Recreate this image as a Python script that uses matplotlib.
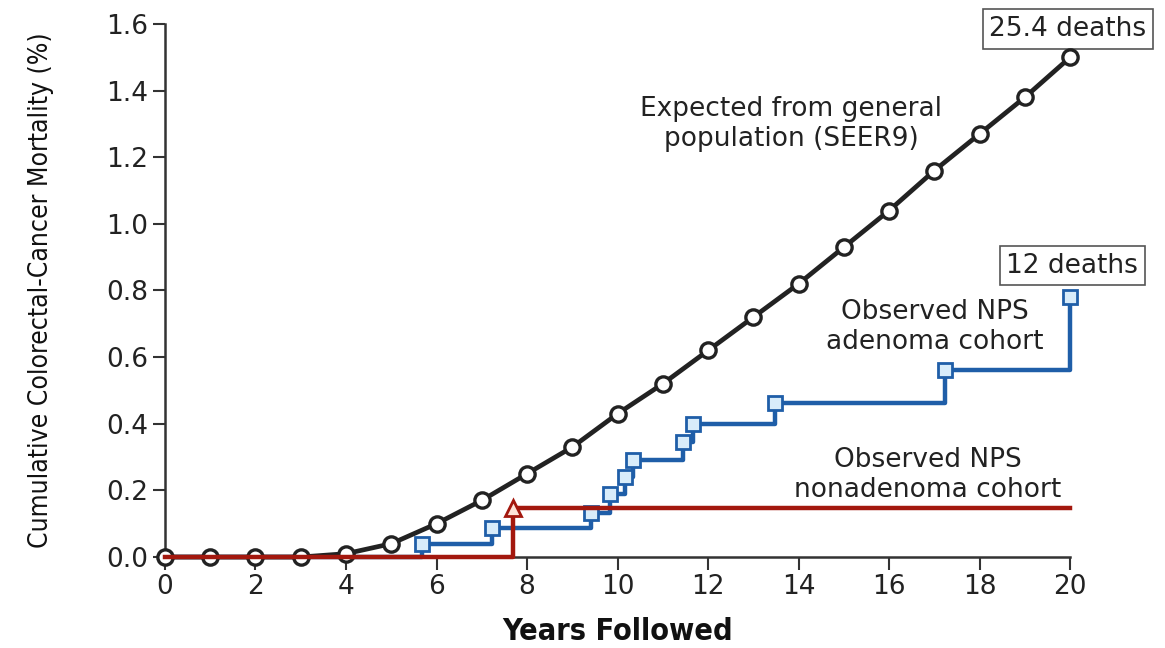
import matplotlib
matplotlib.use("Agg")
import matplotlib.pyplot as plt

# Expected cumulative mortality from general population (SEER9)
years_expected = [0, 1, 2, 3, 4, 5, 6, 7, 8, 9, 10, 11, 12, 13, 14, 15, 16, 17, 18, 19, 20]
mort_expected = [0.0, 0.0, 0.0, 0.0, 0.01, 0.04, 0.10, 0.17, 0.25, 0.33, 0.43, 0.52,
                 0.62, 0.72, 0.82, 0.93, 1.04, 1.16, 1.27, 1.38, 1.50]

# Observed NPS adenoma cohort (step events)
years_adenoma = [5.67, 7.22, 9.41, 9.83, 10.17, 10.35, 11.44, 11.67, 13.48, 17.24, 20.0]
mort_adenoma = [0.04, 0.088, 0.133, 0.19, 0.24, 0.29, 0.346, 0.40, 0.463, 0.56, 0.78]

# Observed NPS nonadenoma cohort
years_nonadenoma = [7.69]
mort_nonadenoma = [0.146]
followup_end = 20

xticks = list(range(0, 21, 2))
yticks = [0.0, 0.2, 0.4, 0.6, 0.8, 1.0, 1.2, 1.4, 1.6]

black = "#222222"
blue = "#1f5ea8"
red = "#a3180e"

fig = plt.figure(figsize=(11.65, 6.48), dpi=100)
ax = fig.add_axes([0.1416, 0.1404, 0.777, 0.8226])

# expected curve
ax.plot(years_expected, mort_expected, color=black, lw=3.4, marker="o", ms=11,
        mfc="white", mec=black, mew=2.4, zorder=4, clip_on=False)

# adenoma step line
bx = [0] + years_adenoma
by = [0] + mort_adenoma
ax.step(bx, by, where="post", color=blue, lw=3.2, zorder=2, clip_on=False)
ax.plot(years_adenoma, mort_adenoma, ls="none", marker="s", ms=9.5,
        mfc="#d8ecfa", mec=blue, mew=2, zorder=5, clip_on=False)

# nonadenoma step line, drawn over the zero baseline
rx = [0] + years_nonadenoma + [followup_end]
ry = [0] + mort_nonadenoma + [mort_nonadenoma[-1]]
ax.step(rx, ry, where="post", color=red, lw=3.2, zorder=6, clip_on=False)
ax.plot(years_nonadenoma, mort_nonadenoma, ls="none", marker="^", ms=12,
        mfc="#fde3d8", mec=red, mew=2, zorder=7, clip_on=False)

ax.set_xlim(0, 20)
ax.set_ylim(0, 1.6)
ax.set_xticks(xticks)
ax.set_yticks(yticks)
ax.set_yticklabels([f"{v:.1f}" for v in yticks])
for s in ["top", "right"]:
    ax.spines[s].set_visible(False)
for s in ["left", "bottom"]:
    ax.spines[s].set_color("#333333")
    ax.spines[s].set_linewidth(1.8)
ax.tick_params(axis="both", length=9, width=1.5, color="#333333",
               labelsize=19, labelcolor="#222222", pad=3)

ax.set_xlabel("Years Followed", fontsize=22, family="DejaVu Sans",
              fontstretch="condensed", fontweight="bold", color="#111111")
ax.xaxis.set_label_coords(0.5, -0.14)
ax.xaxis.label.set_va("center")
ax.set_ylabel("Cumulative Colorectal-Cancer Mortality (%)", fontsize=19,
              family="DejaVu Sans", fontstretch="condensed", color="#111111")
ax.yaxis.set_label_coords(-0.137, 0.5)
ax.yaxis.label.set_va("center")

txt = dict(fontsize=19, color="#222222", ha="center", va="center", linespacing=1.2)
ax.text(13.83, 1.30, "Expected from general\npopulation (SEER9)", **txt)
ax.text(17.0, 0.69, "Observed NPS\nadenoma cohort", **txt)
ax.text(16.85, 0.246, "Observed NPS\nnonadenoma cohort", **txt)

box = dict(boxstyle="square,pad=0.25", fc="white", ec="#555555", lw=1.2)
ax.text(19.95, 1.585, "25.4 deaths", fontsize=19, color="#222222", ha="center",
        va="center", bbox=box, clip_on=False)
ax.text(20.05, 0.875, "12 deaths", fontsize=19, color="#222222", ha="center",
        va="center", bbox=box, clip_on=False)

fig.savefig("out.png", dpi=100, facecolor="white")
